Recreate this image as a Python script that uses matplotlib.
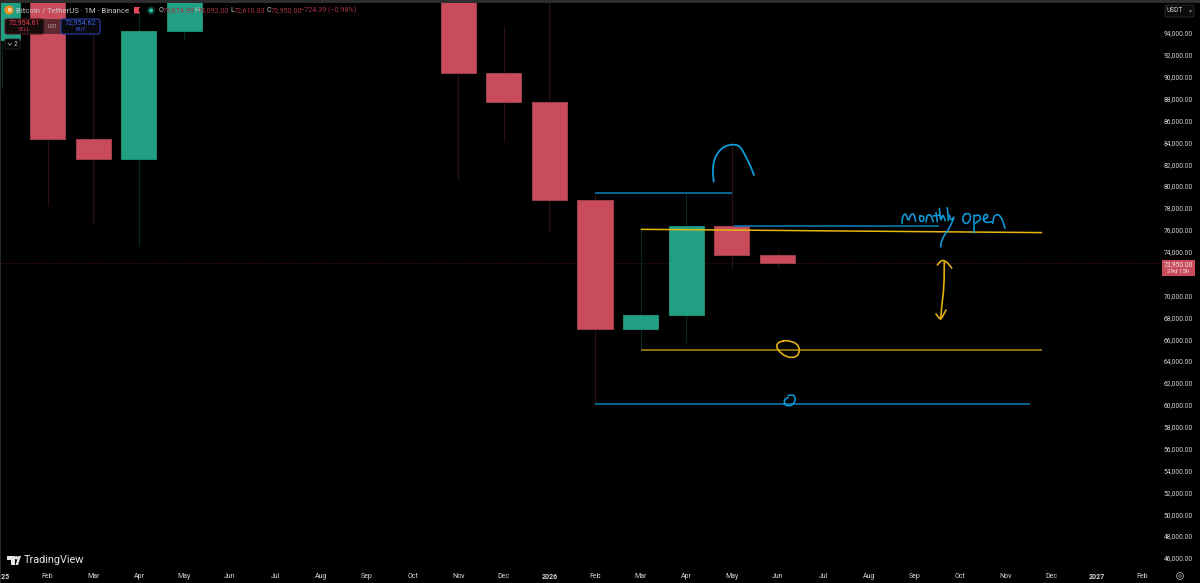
import numpy as np
import matplotlib
matplotlib.use("Agg")
import matplotlib.pyplot as plt
from matplotlib.patches import Rectangle, FancyBboxPatch, Circle, Polygon
from matplotlib.transforms import Affine2D

# ---- monthly BTC/USDT candles (month index: 0 = Jan 2025) ----
months = [0, 1, 2, 3, 4, 10, 11, 12, 13, 14, 15, 16, 17]
opens  = [93400, 102400, 84300, 82500, 94150, 109500, 90350, 87650, 78700, 66950, 68250, 76350, 73674.39]
highs  = [106000, 109500, 95000, 95800, 104900, 111000, 94600, 97800, 79300, 76100, 79400, 84000, 74092]
lows   = [89000, 78200, 76600, 74500, 93400, 80600, 84000, 75700, 60000, 65000, 65700, 72400, 72610.03]
closes = [102400, 84300, 82500, 94150, 104600, 90350, 87650, 78700, 66950, 68250, 76350, 73674, 72950]

last_price = 72950

# ---- time and price axes ----
time_positions = list(range(0, 26))
time_labels = ["2025", "Feb", "Mar", "Apr", "May", "Jun", "Jul", "Aug", "Sep", "Oct", "Nov", "Dec",
               "2026", "Feb", "Mar", "Apr", "May", "Jun", "Jul", "Aug", "Sep", "Oct", "Nov", "Dec",
               "2027", "Feb"]
price_ticks = list(range(46000, 96000, 2000))
price_hidden_by_tag = 72000

# ---- ruled levels: (start month, end month, start price, end price) ----
blue_levels = [(13.0, 16.0, 79350, 79350), (16.05, 20.55, 76350, 76350), (13.0, 22.53, 60050, 60050)]
gold_upper = (14.0, 22.8, 76050, 75750)
gold_lower = (14.0, 22.8, 65000, 65000)

BG = "#000000"
RED = "#C94C5D"
GREEN = "#22A084"
RED_EDGE = "#A23E4D"
GREEN_EDGE = "#1B8C73"
RED_WICK = "#2B1016"
GREEN_WICK = "#06261F"
AXIS_TEXT = "#D6D6D6"
INK_BLUE = "#0E9BD8"
INK_GOLD = "#E3AE12"
LINE_BLUE = "#0B6E9E"

plt.rcParams["font.family"] = ["Roboto", "DejaVu Sans"]

W, H = 1200, 583
fig = plt.figure(figsize=(12, 5.83), dpi=100, facecolor=BG)

PX_MONTH = 45.62
PX_THOUSAND = 10.9375
TOP, BOTTOM, RIGHT = 2, 567, 1160
ax = fig.add_axes([0, (H - BOTTOM) / H, RIGHT / W, (BOTTOM - TOP) / H], facecolor=BG)
screen = Affine2D().scale(1, -1).translate(0, H)

# candles
width = 0.77
for m, o, h, l, c in zip(months, opens, highs, lows, closes):
    up = c >= o
    ax.vlines(m, l, h, color=GREEN_WICK if up else RED_WICK, lw=0.9, zorder=2)
    ax.bar(m, abs(c - o), bottom=min(o, c), width=width, color=GREEN if up else RED,
           edgecolor=GREEN_EDGE if up else RED_EDGE, linewidth=0.7, zorder=3)

# last price line
ax.axhline(last_price, color="#5A1A22", lw=0.7, ls=(0, (1, 2)), zorder=1)

# ruled levels
for x0, x1, y0, y1 in blue_levels:
    ax.plot([x0, x1], [y0, y1], color=LINE_BLUE, lw=1.3, zorder=4, solid_capstyle="butt")
ax.plot(gold_upper[:2], gold_upper[2:], color="#E6B80F", lw=1.1, zorder=5, solid_capstyle="butt")
ax.plot(gold_lower[:2], gold_lower[2:], color="#957A0E", lw=1.3, zorder=5, solid_capstyle="butt")


def smooth(points, rounds=2):
    pts = np.asarray(points, float)
    for _ in range(rounds):
        a, b = pts[:-1], pts[1:]
        mid = np.empty((2 * len(a), 2))
        mid[0::2] = 0.75 * a + 0.25 * b
        mid[1::2] = 0.25 * a + 0.75 * b
        pts = np.vstack([pts[:1], mid, pts[-1:]])
    return pts


def ink(points, color=INK_BLUE, lw=1.15, rounds=2):
    p = smooth(points, rounds)
    ax.plot(p[:, 0], p[:, 1], color=color, lw=lw, transform=screen, zorder=6,
            solid_capstyle="round", solid_joinstyle="round", clip_on=False)


# freehand notes
ink([(713.7, 181.7), (712.7, 170), (714, 160), (718.3, 151.7), (725, 146), (733.3, 144.3),
     (740, 146), (745, 155), (750, 165), (754, 175)], lw=1.3)

blue_strokes = [
    [(902, 223.3), (902.7, 216), (906, 213.3), (908.3, 221.7), (911, 214), (914, 214), (915.7, 221.3)],
    [(920, 216), (923.3, 216), (924.3, 220), (920.7, 222), (919.3, 218.3), (920, 216)],
    [(926, 222), (927.3, 215), (930.7, 214.7), (933.3, 221.7)],
    [(936, 212.7), (937.3, 221.7)],
    [(933, 216), (940, 215)],
    [(939.3, 208.3), (940.7, 221.7), (942.7, 214), (945.3, 220.7)],
    [(947.3, 207.7), (948.3, 220.7)],
    [(949.3, 215), (951, 220.7), (954.7, 216), (949.3, 228.3), (943.3, 236.7), (940.7, 244), (941, 247)],
    [(965, 214), (969.3, 213.3), (971, 218.3), (967.3, 224), (963.3, 222.3), (962.7, 217.3), (965, 214)],
    [(973.7, 215), (973.7, 233.3)],
    [(974.3, 216), (979.3, 214.7), (981, 219.3), (975.3, 223.3)],
    [(983.3, 219.3), (987.7, 217.7), (987.3, 214), (983.7, 215.3), (983.3, 220.7), (986.7, 222.7), (991.7, 221.7)],
    [(992.7, 223.3), (994, 216), (998.3, 214), (1002.3, 219.3), (1005, 228.3)],
    [(788.3, 397.3), (784, 400), (785, 405.3), (791.7, 406), (795.7, 400), (794, 395), (788.3, 395.3)],
]
for stroke in blue_strokes:
    ink(stroke, rounds=1)

gold_strokes = [
    [(944.3, 262), (944, 286.7), (941.7, 306.7), (940.7, 319.3)],
    [(937.3, 265), (941.7, 260), (946.7, 261.7), (951.7, 268)],
    [(936, 314), (940.7, 320), (946, 310)],
    [(783.3, 340.7), (776.7, 343.3), (777.3, 350), (786.7, 357.3), (796.7, 357.3), (800, 350),
     (796.7, 343.3), (788.3, 340.7), (783.3, 340.7)],
]
for stroke in gold_strokes:
    ink(stroke, color=INK_GOLD, lw=1.2, rounds=1)

# scales
ax.set_xlim(-2 / PX_MONTH, (RIGHT - 2) / PX_MONTH)
ax.set_ylim(94000 - (BOTTOM - 33) / PX_THOUSAND * 1000, 94000 + (33 - TOP) / PX_THOUSAND * 1000)
ax.yaxis.tick_right()
ax.set_yticks(price_ticks)
ax.set_yticklabels(["" if v == price_hidden_by_tag else f"{v:,.2f}" for v in price_ticks],
                   color=AXIS_TEXT, fontsize=4.8)
ax.set_xticks(time_positions)
ax.set_xticklabels(time_labels, color=AXIS_TEXT, fontsize=5.0)
for lab, name in zip(ax.get_xticklabels(), time_labels):
    if name.isdigit():
        lab.set_fontweight("bold")
ax.tick_params(axis="y", length=0, pad=2.6)
ax.tick_params(axis="x", length=0, pad=4.2)
for s in ax.spines.values():
    s.set_visible(False)


def patch(p, z=8):
    p.set_transform(screen)
    p.set_clip_on(False)
    p.set_zorder(z)
    ax.add_patch(p)


def label(x, y, s, color="#D0D0D0", size=4.8, ha="left", weight="normal", z=10):
    ax.text(x, y, s, color=color, fontsize=size, ha=ha, va="center", transform=screen,
            fontweight=weight, clip_on=False, zorder=z)


# window frame
patch(Rectangle((0, 0), W, 2.6, fc="#2E2E2E", ec="none"))
patch(Rectangle((0, 0), 1, H, fc="#2A2A2A", ec="none"))

# price tag on the axis
patch(Rectangle((1162, 260), 33, 16, fc=RED, ec="none"), z=9)
label(1178.5, 264.4, "72,950.00", color="#F5E3E5", size=4.9, ha="center")
label(1178.5, 271.3, "29d 15h", color="#F5E3E5", size=4.4, ha="center")

# currency selector
patch(FancyBboxPatch((1165, 5), 29, 12, boxstyle="round,pad=0,rounding_size=1.5",
                     fc="#0C0C0C", ec="#2E2E2E", lw=0.6))
label(1166.5, 11, "USDT", size=4.8)
patch(Polygon([(1189, 10.5), (1192, 10.5), (1190.5, 12.2)], fc="#B8B8B8", ec="none"))

# chart legend
patch(Circle((9, 10), 4.5, fc="#F0901E", ec="none"))
label(9, 10.2, "B", color="#FFF0DC", size=4.2, ha="center", weight="bold")
label(15.5, 10.5, "Bitcoin / TetherUS · 1M · Binance", size=5.6, color="#C8C8C8")
patch(Polygon([(134, 7), (140, 7), (138.5, 10), (140, 13.5), (134, 13.5)], fc="#E8485C", ec="none"))
patch(Circle((151, 10.5), 4, fc="#0E3A33", ec="none"))
patch(Circle((151, 10.5), 2, fc="#2CC3A4", ec="none"))

quote = "#A53446"
for x, s in [(158.5, "O"), (194, "H"), (230, "L"), (266.5, "C")]:
    label(x, 10.5, s, color="#C8C8C8", size=5.2)
for x, s in [(163, "73,674.39"), (198, "74,092.00"), (234, "72,610.03"), (271, "72,950.00"),
             (300.5, "\u2212724.39 (\u22120.98%)")]:
    label(x, 10.5, s, color=quote, size=5.2)

# quick trade buttons
patch(Rectangle((44, 19), 17, 15, fc="#5E2A31", ec="none"), z=8)
patch(FancyBboxPatch((5, 19), 39, 15, boxstyle="round,pad=0,rounding_size=2",
                     fc="#140B0C", ec="#4E1A22", lw=0.8))
patch(FancyBboxPatch((61, 19), 39, 15, boxstyle="round,pad=0,rounding_size=2",
                     fc="#08090F", ec="#2A3A9A", lw=0.9))
label(24.5, 23, "72,954.61", color="#E23A4E", size=5.2, ha="center")
label(24.5, 29.7, "SELL", color="#B8303F", size=4.1, ha="center")
label(52.5, 26.7, "0.01", color="#C0A8AA", size=3.8, ha="center")
label(80.5, 23, "72,954.62", color="#3F62E8", size=5.2, ha="center")
label(80.5, 29.7, "BUY", color="#3450C8", size=4.1, ha="center")
patch(FancyBboxPatch((5, 39), 15, 10, boxstyle="round,pad=0,rounding_size=1.5",
                     fc="#050505", ec="#262626", lw=0.6))
label(15.5, 44.2, "2", size=4.8, ha="center")
ax.plot([8, 9.8, 11.6], [43.3, 45.2, 43.3], color="#C8C8C8", lw=0.5, transform=screen, clip_on=False, zorder=10)

# platform mark
patch(Polygon([(6.5, 556), (15, 556), (15, 565), (11, 565), (11, 559.5), (6.5, 559.5)], fc="#E6E6E6", ec="none"))
patch(Circle((16.5, 557.8), 1.7, fc="#E6E6E6", ec="none"))
patch(Polygon([(18, 565), (15.5, 565), (18.5, 556), (21, 556)], fc="#E6E6E6", ec="none"))
label(24, 559.8, "TradingView", color="#E6E6E6", size=7.8)

# scale settings icon
patch(Circle((1180, 576), 3.4, fc="none", ec="#B0B0B0", lw=0.6))
patch(Circle((1180, 576), 1.2, fc="none", ec="#B0B0B0", lw=0.5))

fig.savefig("out.png", dpi=100, facecolor=BG)
